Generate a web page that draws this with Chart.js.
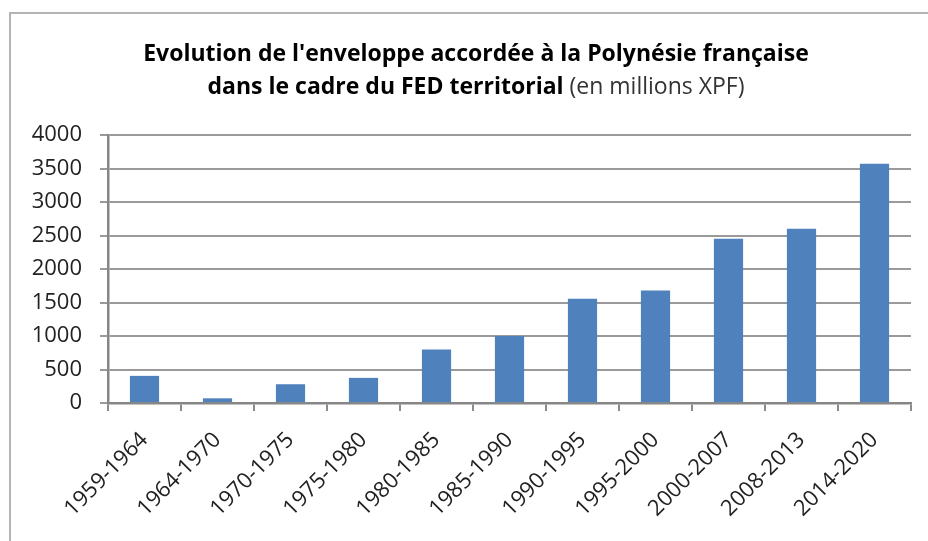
<!DOCTYPE html>
<html>
<head>
<meta charset="utf-8">
<script src="https://cdn.jsdelivr.net/npm/chart.js@4"></script>
<style>
  html, body { margin: 0; padding: 0; background: #fff; overflow: hidden; }
  #wrap { position: relative; width: 928px; height: 541px; }
  #frame { position: absolute; left: 9px; top: 12px; width: 2000px; height: 2000px; border: 2px solid #b4b4b4; box-sizing: border-box; }
  canvas { position: absolute; left: 0; top: 0; }
</style>
</head>
<body>
<div id="wrap">
  <div id="frame"></div>
  <canvas id="myChart" width="928" height="541"></canvas>
</div>
<script>
const periods = ['1959-1964', '1964-1970', '1970-1975', '1975-1980', '1980-1985', '1985-1990',
                 '1990-1995', '1995-2000', '2000-2007', '2008-2013', '2014-2020'];
const amounts = [405, 70, 280, 375, 800, 1000, 1555, 1680, 2450, 2600, 3570];
const titleLine1 = "Evolution de l'enveloppe accordée à la Polynésie française";
const titleLine2Bold = 'dans le cadre du FED territorial ';
const titleLine2Normal = '(en millions XPF)';

// title drawn by hand because line 2 mixes bold and normal text
const titlePlugin = {
  id: 'twoPartTitle',
  afterDraw(chart) {
    const ctx = chart.ctx;
    const cx = 476;
    ctx.save();
    ctx.fillStyle = '#000';
    ctx.textBaseline = 'alphabetic';
    ctx.font = 'bold 23px "Open Sans"';
    ctx.textAlign = 'center';
    ctx.fillText(titleLine1, cx, 61);
    const w1 = ctx.measureText(titleLine2Bold).width;
    ctx.font = '23px "Open Sans"';
    const w2 = ctx.measureText(titleLine2Normal).width;
    let x = cx - (w1 + w2) / 2;
    ctx.textAlign = 'left';
    ctx.font = 'bold 23px "Open Sans"';
    ctx.fillText(titleLine2Bold, x, 94);
    ctx.fillStyle = '#333';
    ctx.font = '23px "Open Sans"';
    ctx.fillText(titleLine2Normal, x + w1, 94);
    ctx.restore();
  }
};

const ctx = document.getElementById('myChart').getContext('2d');
new Chart(ctx, {
  type: 'bar',
  data: {
    labels: periods,
    datasets: [{
      data: amounts,
      backgroundColor: '#4f81bd',
      borderWidth: 0,
      barPercentage: 0.4,
      categoryPercentage: 1
    }]
  },
  options: {
    responsive: false,
    animation: false,
    layout: { padding: { top: 135, right: 17, bottom: 0, left: 0 } },
    plugins: { legend: { display: false }, tooltip: { enabled: false }, title: { display: false } },
    scales: {
      x: {
        afterFit(scale) { scale.height = 138; },
        grid: { drawOnChartArea: false, color: '#8a8a8a', lineWidth: 2, tickLength: 8, offset: true },
        border: { color: '#868686', width: 2.5 },
        ticks: {
          color: '#222',
          font: { family: 'Open Sans', size: 22 },
          minRotation: 45,
          maxRotation: 45,
          padding: 16,
          autoSkip: false
        }
      },
      y: {
        min: 0,
        max: 4000,
        afterFit(scale) { scale.width = 108; },
        grid: { color: '#9a9a9a', lineWidth: 2, tickLength: 8 },
        border: { color: '#868686', width: 2.5 },
        ticks: {
          stepSize: 500,
          color: '#222',
          font: { family: 'Open Sans', size: 22 },
          padding: 18,
          callback: (v) => String(v)
        }
      }
    }
  },
  plugins: [titlePlugin]
});
</script>
</body>
</html>
